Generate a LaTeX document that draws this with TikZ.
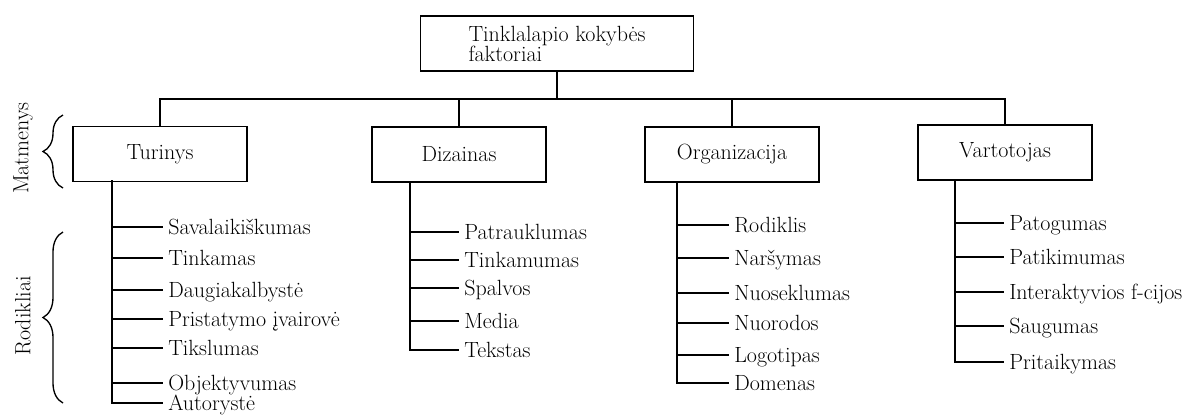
\documentclass[tikz,border=0pt]{standalone}
\usetikzlibrary{decorations.pathreplacing}

\tikzstyle{factor}=[
  draw,
  line width=1.1pt,
  minimum width=130.5pt,
  minimum height=41.25pt,
  font=\fontsize{16.5}{15}\selectfont,
  ]
\tikzstyle{indicator}=[
  anchor=west,
  inner xsep=4.5pt,
  inner ysep=0pt,
  text height=11.5pt,
  text depth=0pt,
  font=\fontsize{16.5}{15}\selectfont,
  ]
\tikzstyle{tree edge}=[ line width=1.1pt, line cap=rect, ]
\tikzstyle{side brace}=[ line width=1pt, decorate, decoration={brace, amplitude=15pt, aspect=0.5}, ]
\tikzstyle{side label}=[ rotate=90, font=\fontsize{16.5}{15}\selectfont, ]

\begin{document}
\begin{tikzpicture}[
    x=0.75pt,
    y=-0.75pt,
    ]
    \useasboundingbox (0,0) rectangle (1202,415);

    \node[factor, minimum width=204.75pt, align=left] (top) at (557,43.5) {Tinklalapio kokybės\\faktoriai};

    \node[factor] (turinys) at (160,154) {Turinys};
    \node[factor] (dizainas) at (459,154.5) {Dizainas};
    \node[factor] (organizacija) at (732,154.5) {Organizacija};
    \node[factor] (vartotojas) at (1005,152.5) {Vartotojas};

    \coordinate (bus) at (557,99);
    \draw[tree edge] (top.south) -- (bus);
    \draw[tree edge] (turinys.north) -- (turinys.north |- bus) -- (vartotojas.north |- bus) -- (vartotojas.north);
    \draw[tree edge] (dizainas.north) -- (dizainas.north |- bus);
    \draw[tree edge] (organizacija.north) -- (organizacija.north |- bus);

    % Turinys
    \coordinate (t0) at (112,181);
    \node[indicator] (t1) at (162,227) {Savalaikiškumas};
    \node[indicator] (t2) at (162,258) {Tinkamas};
    \node[indicator] (t3) at (162,290) {Daugiakalbystė};
    \node[indicator] (t4) at (162,319) {Pristatymo įvairovė};
    \node[indicator] (t5) at (162,348) {Tikslumas};
    \node[indicator] (t6) at (162,383) {Objektyvumas};
    \node[indicator] (t7) at (162,403) {Autorystė};
    \draw[tree edge] (t0) -- (t7.west -| t0);
    \draw[tree edge] (t1.west -| t0) -- (t1.west);
    \draw[tree edge] (t2.west -| t0) -- (t2.west);
    \draw[tree edge] (t3.west -| t0) -- (t3.west);
    \draw[tree edge] (t4.west -| t0) -- (t4.west);
    \draw[tree edge] (t5.west -| t0) -- (t5.west);
    \draw[tree edge] (t6.west -| t0) -- (t6.west);
    \draw[tree edge] (t7.west -| t0) -- (t7.west);

    % Dizainas
    \coordinate (d0) at (410,182);
    \node[indicator] (d1) at (458,232) {Patrauklumas};
    \node[indicator] (d2) at (458,260) {Tinkamumas};
    \node[indicator] (d3) at (458,288) {Spalvos};
    \node[indicator] (d4) at (458,321) {Media};
    \node[indicator] (d5) at (458,350) {Tekstas};
    \draw[tree edge] (d0) -- (d5.west -| d0);
    \draw[tree edge] (d1.west -| d0) -- (d1.west);
    \draw[tree edge] (d2.west -| d0) -- (d2.west);
    \draw[tree edge] (d3.west -| d0) -- (d3.west);
    \draw[tree edge] (d4.west -| d0) -- (d4.west);
    \draw[tree edge] (d5.west -| d0) -- (d5.west);

    % Organizacija
    \coordinate (o0) at (677,182);
    \node[indicator] (o1) at (728,225) {Rodiklis};
    \node[indicator] (o2) at (728,258) {Naršymas};
    \node[indicator] (o3) at (728,293) {Nuoseklumas};
    \node[indicator] (o4) at (728,323) {Nuorodos};
    \node[indicator] (o5) at (728,355) {Logotipas};
    \node[indicator] (o6) at (728,383) {Domenas};
    \draw[tree edge] (o0) -- (o6.west -| o0);
    \draw[tree edge] (o1.west -| o0) -- (o1.west);
    \draw[tree edge] (o2.west -| o0) -- (o2.west);
    \draw[tree edge] (o3.west -| o0) -- (o3.west);
    \draw[tree edge] (o4.west -| o0) -- (o4.west);
    \draw[tree edge] (o5.west -| o0) -- (o5.west);
    \draw[tree edge] (o6.west -| o0) -- (o6.west);

    % Vartotojas
    \coordinate (v0) at (955,180);
    \node[indicator] (v1) at (1003,223) {Patogumas};
    \node[indicator] (v2) at (1003,257) {Patikimumas};
    \node[indicator] (v3) at (1003,292) {Interaktyvios f-cijos};
    \node[indicator] (v4) at (1003,326) {Saugumas};
    \node[indicator] (v5) at (1003,362) {Pritaikymas};
    \draw[tree edge] (v0) -- (v5.west -| v0);
    \draw[tree edge] (v1.west -| v0) -- (v1.west);
    \draw[tree edge] (v2.west -| v0) -- (v2.west);
    \draw[tree edge] (v3.west -| v0) -- (v3.west);
    \draw[tree edge] (v4.west -| v0) -- (v4.west);
    \draw[tree edge] (v5.west -| v0) -- (v5.west);

    % side braces
    \draw[side brace] (63,188) -- (63,115);
    \node[side label] (matmenys) at (23,148) {Matmenys};
    \draw[side brace] (63,403) -- (63,232);
    \node[side label] (rodikliai) at (23,316) {Rodikliai};
  \end{tikzpicture}
\end{document}
